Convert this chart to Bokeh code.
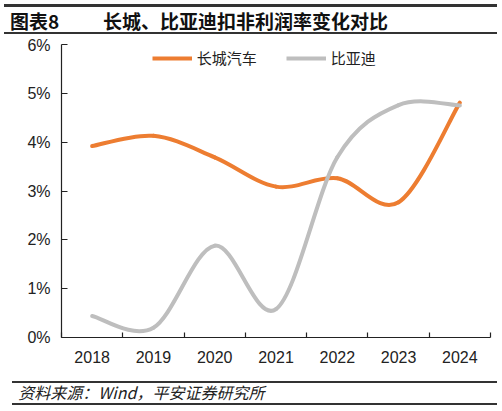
import numpy as np
from bokeh.plotting import figure
from bokeh.layouts import column
from bokeh.models import (FixedTicker, Legend, LegendItem, ColumnDataSource, Div)
from bokeh.embed import file_html
from bokeh.resources import INLINE

# ---------------- data ----------------
years = ["2018", "2019", "2020", "2021", "2022", "2023", "2024"]
great_wall = [3.92, 4.13, 3.69, 3.09, 3.26, 2.77, 4.81]   # 长城汽车 (%)
byd = [0.44, 0.20, 1.88, 0.58, 3.69, 4.76, 4.75]          # 比亚迪 (%)
y_ticks = [0, 1, 2, 3, 4, 5, 6]
y_tick_labels = ["0%", "1%", "2%", "3%", "4%", "5%", "6%"]
series_names = ["长城汽车", "比亚迪"]
title_no = "图表8"
title_text = "长城、比亚迪扣非利润率变化对比"
source_text = "资料来源：Wind，平安证券研究所"

# ---------------- layout ----------------
W = 502
HEAD_H, MAIN_H, FOOT_H = 36, 339, 36
BL, BR, BT, BB = 61, 12, 8, 38
NX = len(years)
YMAX = y_ticks[-1]

ORANGE = "#ED7D31"
GRAY = "#BEBEBE"
DARK = "#222222"
RULE = "#333333"
CJK = "Noto Sans CJK SC"
LAT = "Liberation Sans"


def rule_html(left, right, top, bottom):
    return (f'<div style="position:absolute;left:{left}px;top:{top}px;'
            f'width:{right - left}px;height:{bottom - top}px;background:{RULE};"></div>')


def text_html(txt, left, top, size, extra):
    return (f'<span style="position:absolute;left:{left}px;top:{top}px;'
            f'font-family:\'{CJK}\';font-size:{size}px;line-height:{size}px;'
            f'white-space:nowrap;color:#111111;{extra}">{txt}</span>')


def box_div(inner, h):
    html = (f'<div style="position:relative;width:{W}px;height:{h}px;'
            f'overflow:hidden;background:white;">{inner}</div>')
    return Div(text=html, width=W, height=h, margin=0)


# ---------------- header ----------------
head = box_div(
    rule_html(4, 497, 4, 6.5) + rule_html(4, 497, 32, 34)
    + text_html(title_no, 10, 10.5, 19, "font-weight:bold;")
    + text_html(title_text, 103, 10.5, 19, "font-weight:bold;"),
    HEAD_H)

# ---------------- main chart ----------------
p = figure(width=W, height=MAIN_H, output_backend="svg", toolbar_location=None,
           x_range=(0, NX), y_range=(0, YMAX),
           min_border_left=BL, min_border_right=BR,
           min_border_top=BT, min_border_bottom=BB)
p.outline_line_color = None
p.grid.visible = False
p.background_fill_color = "white"
p.border_fill_color = "white"


def bezier_source(vals):
    x = np.arange(len(vals)) + 0.5
    y = np.asarray(vals, dtype=float)
    n = len(y)
    xp = np.concatenate([[x[0]], x, [x[-1]]])
    yp = np.concatenate([[y[0]], y, [y[-1]]])
    i = np.arange(n - 1)
    return ColumnDataSource(dict(
        x0=xp[i + 1], y0=yp[i + 1], x1=xp[i + 2], y1=yp[i + 2],
        cx0=xp[i + 1] + (xp[i + 2] - xp[i]) / 6,
        cy0=yp[i + 1] + (yp[i + 2] - yp[i]) / 6,
        cx1=xp[i + 2] - (xp[i + 3] - xp[i + 1]) / 6,
        cy1=yp[i + 2] - (yp[i + 3] - yp[i + 1]) / 6,
    ))


for vals, col in [(great_wall, ORANGE), (byd, GRAY)]:
    p.bezier(x0="x0", y0="y0", x1="x1", y1="y1", cx0="cx0", cy0="cy0",
             cx1="cx1", cy1="cy1", source=bezier_source(vals),
             line_color=col, line_width=4, line_cap="round")

# legend (proxy renderers that draw nothing in the plot)
d1 = p.line(x=[np.nan], y=[np.nan], line_color=ORANGE, line_width=4)
d2 = p.line(x=[np.nan], y=[np.nan], line_color=GRAY, line_width=4)
legend = Legend(items=[LegendItem(label=series_names[0], renderers=[d1]),
                       LegendItem(label=series_names[1], renderers=[d2])],
                orientation="horizontal", location=(90.7, 268.7),
                glyph_width=40, glyph_height=20, label_height=20,
                label_standoff=5, spacing=29, padding=0, margin=0,
                border_line_color=None, background_fill_alpha=0,
                label_text_font=CJK, label_text_font_size="15px",
                label_text_color=DARK)
p.add_layout(legend)

# x axis: labels at category centres, tick marks at category boundaries
xa = p.xaxis[0]
xa.ticker = FixedTicker(ticks=[i + 0.5 for i in range(NX)],
                        minor_ticks=list(range(NX + 1)))
xa.major_label_overrides = {i + 0.5: years[i] for i in range(NX)}
xa.major_tick_line_color = None
xa.major_tick_in = 0
xa.major_tick_out = 0
xa.minor_tick_in = 5
xa.minor_tick_out = 0
xa.minor_tick_line_color = DARK
xa.minor_tick_line_width = 1.2
xa.axis_line_color = DARK
xa.axis_line_width = 1.2
xa.major_label_standoff = 13
xa.major_label_text_font = LAT
xa.major_label_text_font_size = "16px"
xa.major_label_text_color = DARK

# y axis
ya = p.yaxis[0]
ya.ticker = FixedTicker(ticks=y_ticks, minor_ticks=[])
ya.major_label_overrides = {t: l for t, l in zip(y_ticks, y_tick_labels)}
ya.major_tick_in = 6
ya.major_tick_out = 0
ya.major_tick_line_color = DARK
ya.major_tick_line_width = 1.2
ya.minor_tick_line_color = None
ya.axis_line_color = DARK
ya.axis_line_width = 1.2
ya.major_label_standoff = 11
ya.major_label_text_font = LAT
ya.major_label_text_font_size = "16px"
ya.major_label_text_color = DARK

# ---------------- footer ----------------
foot = box_div(
    rule_html(12, 497, 6, 8) + rule_html(12, 497, 28, 29.5)
    + text_html(source_text, 18.3, 9.3, 16, "font-style:italic;color:#222222;"),
    FOOT_H)

layout = column(head, p, foot, spacing=0)
open("out.html", "w").write(file_html(layout, INLINE))
